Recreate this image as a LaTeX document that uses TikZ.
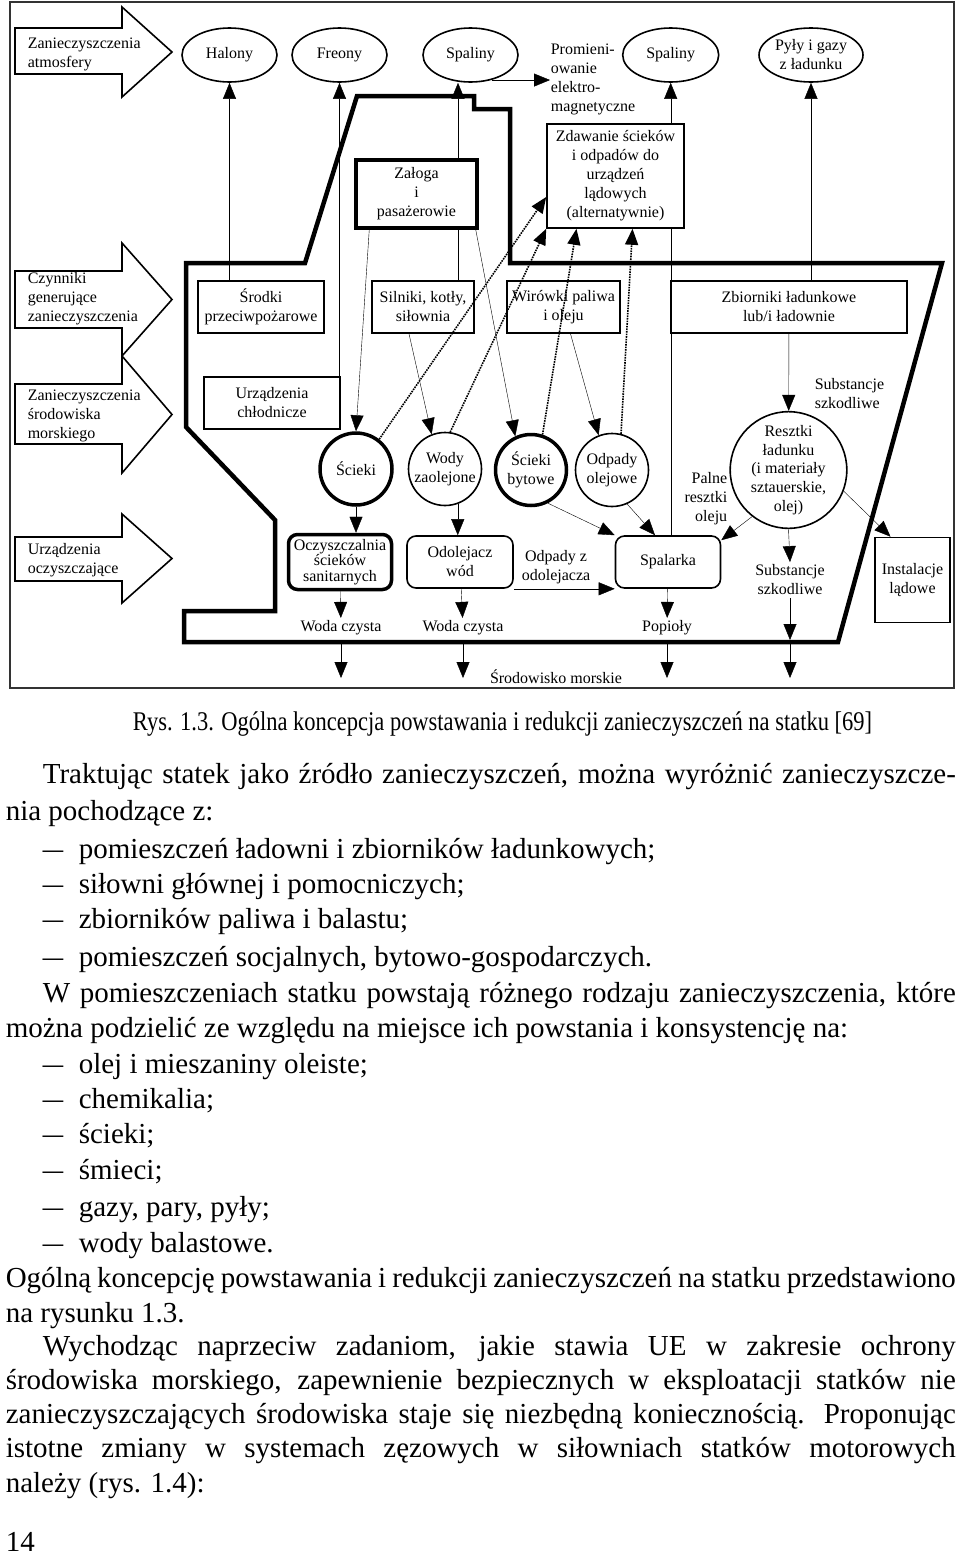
\documentclass[tikz,border=0pt]{standalone}
\usepackage{fontspec}
\setmainfont{Liberation Serif}
\usepackage{graphicx}
\usetikzlibrary{arrows.meta,shapes.geometric,backgrounds}
\newcommand{\diagfont}{\fontsize{16}{19}\selectfont}
\newcommand{\bodyfont}{\fontsize{29}{35}\selectfont}
\newcommand{\capfont}{\fontsize{27}{32}\selectfont}
\newcommand{\listdash}{\makebox[36pt][l]{\scalebox{1.4}[1]{–}}}
\newcommand{\fillline}[2]{\makebox[#1][s]{#2}}
\tikzset{
  every picture/.style={
    line width=1.6pt,
    >={Triangle[length=16pt, width=13pt]}
  },
  every node/.style={font=\diagfont},
  oval/.style={
    ellipse, draw, fill=white, minimum width=95pt,
    minimum height=54pt, inner sep=0pt, align=center
  },
  unit/.style={
    rectangle, draw, fill=white, minimum height=52pt,
    inner sep=0pt, align=center
  },
  device/.style={unit, rounded corners=9pt},
  ring/.style={
    circle, draw, fill=white, minimum size=74pt,
    inner sep=0pt, align=center
  },
  heavy/.style={line width=3.5pt},
  lbl/.style={inner sep=2pt, align=center},
  side/.style={anchor=west, inner sep=0pt, align=left},
  bodyline/.style={anchor=base west, inner sep=0pt, font=\bodyfont}
}
\begin{document}
\begin{tikzpicture}[x=1pt, y=-1pt]
    \useasboundingbox (0,0) rectangle (960,1556);
    \draw[line width=1.6pt, black!80] (10,2) rectangle (954,688);
    % block arrows on the left
    \foreach \bt/\bb/\ht/\hb in {28/74/7/97, 271/328/243/356, 384/444/356/473, 537/581/514/603}
      \draw (15,\bt) -- (122,\bt) -- (122,\ht) -- (172,{(\ht+\hb)/2}) -- (122,\hb) -- (122,\bb) -- (15,\bb) -- cycle;
    \node [side] (atm) at (27,54) {Zanieczyszczenia\\atmosfery};
    \node [side] (gen) at (27,299) {Czynniki\\generujące\\zanieczyszczenia};
    \node [side] (mor) at (27,415.5) {Zanieczyszczenia\\środowiska\\morskiego};
    \node [side] (ocz) at (27,560) {Urządzenia\\oczyszczające};
    % ship outline
    \draw[line width=4.5pt] (357,96) -- (474,96) -- (474,109) -- (510,109) -- (510,263)
      -- (942,263) -- (838,642) -- (184,642) -- (184,611) -- (275,611) -- (275,520)
      -- (186,427) -- (186,263) -- (305,263) -- cycle;
    \coordinate (keel) at (184,642);
    \coordinate (sea) at (184,678);
    % top row
    \node [oval] (halony) at (229.5,55) {Halony};
    \node [oval] (freony) at (339.5,55) {Freony};
    \node [oval] (spal1) at (470.5,55) {Spaliny};
    \node [oval, minimum width=96pt] (spal2) at (670.7,55) {Spaliny};
    \node [oval, minimum width=104pt] (pyly) at (811,55) {Pyły i gazy\\z ładunku};
    \node [side] (prom) at (550,79) {Promieni-\\owanie\\elektro-\\magnetyczne};
    % boxes
    \node [unit, heavy, minimum width=121pt, minimum height=68pt] (zal) at (416.5,194) {Załoga\\i\\pasażerowie};
    \node [unit, minimum width=137pt, minimum height=104pt] (zdaw) at (615.5,176)
      {Zdawanie ścieków\\i odpadów do\\urządzeń\\lądowych\\(alternatywnie)};
    \node [unit, minimum width=126pt] (srodki) at (261,307) {Środki\\przeciwpożarowe};
    \node [unit, minimum width=102pt] (silniki) at (423,307) {Silniki, kotły,\\siłownia};
    \node [unit, minimum width=113pt] (wirowki) at (563.5,307) {Wirówki paliwa\\i oleju};
    \node [unit, minimum width=236pt] (zbior) at (789,307) {Zbiorniki ładunkowe\\lub/i ładownie};
    \node [unit, minimum width=136pt] (chlod) at (272,403) {Urządzenia\\chłodnicze};
    % circles
    \node [ring, heavy, minimum size=72pt] (scieki) at (356,469) {Ścieki};
    \node [ring, minimum size=73pt] (wody) at (445,469) {Wody\\zaolejone};
    \node [ring, heavy, minimum size=71pt] (bytowe) at (531,470) {Ścieki\\bytowe};
    \node [ring, minimum size=73pt] (odpady) at (612,470) {Odpady\\olejowe};
    \node [ring, minimum size=114pt, font=\fontsize{16}{18.7}\selectfont] (resztki) at (788.5,470)
      {Resztki\\ładunku\\(i materiały\\sztauerskie,\\olej)};
    % treatment
    \node [device, heavy, minimum width=103pt, minimum height=55pt, font=\fontsize{16}{15.3}\selectfont] (oczysz) at (340,562)
      {Oczyszczalnia\\ścieków\\sanitarnych};
    \node [device, minimum width=106pt] (odol) at (460,562) {Odolejacz\\wód};
    \node [device, minimum width=105pt] (spalarka) at (668,562) {Spalarka};
    \node [unit, minimum width=75pt, minimum height=85pt] (instal) at (912.5,580) {Instalacje\\lądowe};
    % free labels
    \node [lbl] (woda1) at (341,628) {Woda czysta};
    \node [lbl] (woda2) at (463,628) {Woda czysta};
    \node [lbl] (popioly) at (667,628) {Popioły};
    \node [lbl] (subst2) at (790,580) {Substancje\\szkodliwe};
    \node [side] (subst1) at (814,394) {Substancje\\szkodliwe};
    \node [anchor=east, align=right, inner sep=0pt] (palne) at (728,499) {Palne\\resztki\\oleju};
    \node [lbl] (odpz) at (556,567.5) {Odpady z\\odolejacza};
    \node [lbl] (morze) at (556,677) {Środowisko morskie};
    % solid connectors
    \begin{scope}[on background layer]
      \draw[->] (halony.south |- srodki.north) -- (halony.south);
      \draw[->] (freony.south |- chlod.north) -- (freony.south);
      \draw[->] ([xshift=35pt]silniki.north) -- ([xshift=35pt]silniki.north |- spal1.south);
      \draw[->] (spal2.south |- spalarka.north) -- (spal2.south);
      \draw[->] (pyly.south |- zbior.north) -- (pyly.south);
      \draw[->] (spal1.-50) -- (spal1.-50 -| prom.west);
      \draw[->] ([xshift=15pt]zal.south west) -- (scieki.north);
      \draw[->] ([xshift=-3pt]zal.south east) -- (bytowe.115);
      \draw[->] ([xshift=-14pt]silniki.south) -- (wody.111);
      \draw[->] ([xshift=7pt]wirowki.south) -- (odpady.111);
      \draw[->] (zbior) -- (resztki);
      \draw[->] (scieki.south) -- (scieki.south |- oczysz.north);
      \draw[->] (wody.-70) -- (wody.-70 |- odol.north);
      \draw[->] (bytowe.-63) -- (spalarka.north west);
      \draw[->] (odpady.-66) -- ([xshift=-13pt]spalarka.north);
      \draw[->] (resztki.232) -- ([yshift=-5pt]spalarka.north east);
      \draw[->] (odol.south east) -- (spalarka.south west);
      \draw[->] (resztki.-21) -- ([xshift=-22pt]instal.north);
      \draw[->] (resztki.south) -- (subst2.north);
      \draw[->, shorten >=2pt] (subst2.south) -- (subst2.south |- keel);
      \draw[->] (oczysz) -- (woda1);
      \draw[->] (odol) -- (woda2);
      \draw[->] (spalarka) -- (popioly);
      \draw[->] (woda1.south |- keel) -- (woda1.south |- sea);
      \draw[->] (woda2.south |- keel) -- (woda2.south |- sea);
      \draw[->] (popioly.south |- keel) -- (popioly.south |- sea);
      \draw[->] (subst2.south |- keel) -- (subst2.south |- sea);
    \end{scope}
    % dotted connectors to shore delivery
    \draw[->, densely dotted] (scieki.52) -- ([yshift=-21pt]zdaw.west);
    \draw[->, densely dotted] (wody.82) -- (zdaw.south west);
    \draw[->, densely dotted] (bytowe.72) -- ([xshift=-39pt]zdaw.south);
    \draw[->, densely dotted] (odpady.76) -- ([xshift=17pt]zdaw.south);
    % caption and page text
    \node [anchor=base, inner sep=0pt, font=\capfont] (cap) at (502.5,730)
      {\resizebox{739pt}{\height}{Rys. 1.3. Ogólna koncepcja powstawania i redukcji zanieczyszczeń na statku [69]}};
    \node [bodyline] (t1) at (42,783) {\fillline{913pt}{Traktując statek jako źródło zanieczyszczeń, można wyróżnić zanieczyszcze-}};
    \node [bodyline] (t2) at (5,820) {nia pochodzące z:};
    \node [bodyline] (t3) at (42,858) {\listdash pomieszczeń ładowni i zbiorników ładunkowych;};
    \node [bodyline] (t4) at (42,893) {\listdash siłowni głównej i pomocniczych;};
    \node [bodyline] (t5) at (42,928) {\listdash zbiorników paliwa i balastu;};
    \node [bodyline] (t6) at (42,966) {\listdash pomieszczeń socjalnych, bytowo-gospodarczych.};
    \node [bodyline] (t7) at (42,1002) {\fillline{913pt}{W pomieszczeniach statku powstają różnego rodzaju zanieczyszczenia, które}};
    \node [bodyline] (t8) at (5,1037) {można podzielić ze względu na miejsce ich powstania i konsystencję na:};
    \node [bodyline] (t9) at (42,1073) {\listdash olej i mieszaniny oleiste;};
    \node [bodyline] (t10) at (42,1108) {\listdash chemikalia;};
    \node [bodyline] (t11) at (42,1143) {\listdash ścieki;};
    \node [bodyline] (t12) at (42,1179) {\listdash śmieci;};
    \node [bodyline] (t13) at (42,1216) {\listdash gazy, pary, pyły;};
    \node [bodyline] (t14) at (42,1252) {\listdash wody balastowe.};
    \node [bodyline] (t15) at (5,1287) {\fillline{950pt}{Ogólną koncepcję powstawania i redukcji zanieczyszczeń na statku przedstawiono}};
    \node [bodyline] (t16) at (5,1322) {na rysunku 1.3.};
    \node [bodyline] (t17) at (42,1355) {\fillline{913pt}{Wychodząc naprzeciw zadaniom, jakie stawia UE w zakresie ochrony}};
    \node [bodyline] (t18) at (5,1389) {\fillline{950pt}{środowiska morskiego, zapewnienie bezpiecznych w eksploatacji statków nie}};
    \node [bodyline] (t19) at (5,1423) {\fillline{950pt}{zanieczyszczających środowiska staje się niezbędną koniecznością. Proponując}};
    \node [bodyline] (t20) at (5,1457) {\fillline{950pt}{istotne zmiany w systemach zęzowych w siłowniach statków motorowych}};
    \node [bodyline] (t21) at (5,1492) {należy (rys. 1.4):};
    \node [bodyline] (page) at (5,1551) {14};
  \end{tikzpicture}
\end{document}
